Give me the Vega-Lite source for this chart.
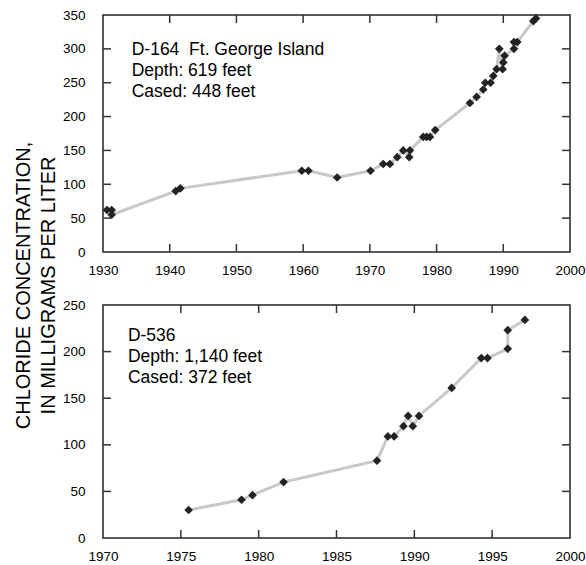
{
  "$schema": "https://vega.github.io/schema/vega-lite/v6.json",
  "padding": {"left": 12, "top": 7, "right": 10, "bottom": 2},
  "background": "white",
  "bounds": "flush",
  "spacing": 53,
  "datasets": {
    "d164": [
      {"i": 1, "year": 1930.6, "chloride": 62},
      {"i": 2, "year": 1931.3, "chloride": 62},
      {"i": 3, "year": 1931.3, "chloride": 55},
      {"i": 4, "year": 1940.9, "chloride": 90},
      {"i": 5, "year": 1941.6, "chloride": 94},
      {"i": 6, "year": 1959.8, "chloride": 120},
      {"i": 7, "year": 1960.8, "chloride": 120},
      {"i": 8, "year": 1965.1, "chloride": 110},
      {"i": 9, "year": 1970.1, "chloride": 120},
      {"i": 10, "year": 1972.0, "chloride": 130},
      {"i": 11, "year": 1973.0, "chloride": 130},
      {"i": 12, "year": 1974.1, "chloride": 140},
      {"i": 13, "year": 1975.0, "chloride": 150},
      {"i": 14, "year": 1975.9, "chloride": 140},
      {"i": 15, "year": 1976.0, "chloride": 150},
      {"i": 16, "year": 1978.0, "chloride": 170},
      {"i": 17, "year": 1978.5, "chloride": 170},
      {"i": 18, "year": 1979.0, "chloride": 170},
      {"i": 19, "year": 1979.8, "chloride": 180},
      {"i": 20, "year": 1985.0, "chloride": 220},
      {"i": 21, "year": 1986.0, "chloride": 229},
      {"i": 22, "year": 1987.0, "chloride": 240},
      {"i": 23, "year": 1987.3, "chloride": 250},
      {"i": 24, "year": 1988.1, "chloride": 250},
      {"i": 25, "year": 1988.5, "chloride": 260},
      {"i": 26, "year": 1989.0, "chloride": 270},
      {"i": 27, "year": 1989.4, "chloride": 300},
      {"i": 28, "year": 1989.9, "chloride": 270},
      {"i": 29, "year": 1990.0, "chloride": 280},
      {"i": 30, "year": 1990.2, "chloride": 290},
      {"i": 31, "year": 1991.6, "chloride": 300},
      {"i": 32, "year": 1991.6, "chloride": 310},
      {"i": 33, "year": 1992.1, "chloride": 310},
      {"i": 34, "year": 1994.5, "chloride": 341},
      {"i": 35, "year": 1994.9, "chloride": 345}
    ],
    "d536": [
      {"i": 1, "year": 1975.5, "chloride": 30},
      {"i": 2, "year": 1978.9, "chloride": 41},
      {"i": 3, "year": 1979.6, "chloride": 46},
      {"i": 4, "year": 1981.6, "chloride": 60},
      {"i": 5, "year": 1987.6, "chloride": 83},
      {"i": 6, "year": 1988.3, "chloride": 109},
      {"i": 7, "year": 1988.7, "chloride": 109},
      {"i": 8, "year": 1989.3, "chloride": 120},
      {"i": 9, "year": 1989.6, "chloride": 131},
      {"i": 10, "year": 1989.9, "chloride": 120},
      {"i": 11, "year": 1990.3, "chloride": 131},
      {"i": 12, "year": 1992.4, "chloride": 161},
      {"i": 13, "year": 1994.3, "chloride": 193},
      {"i": 14, "year": 1994.7, "chloride": 193},
      {"i": 15, "year": 1996.0, "chloride": 203},
      {"i": 16, "year": 1996.0, "chloride": 223},
      {"i": 17, "year": 1997.1, "chloride": 234}
    ],
    "xt1": [{"v": 1940}, {"v": 1950}, {"v": 1960}, {"v": 1970}, {"v": 1980}, {"v": 1990}],
    "yt1": [{"v": 50}, {"v": 100}, {"v": 150}, {"v": 200}, {"v": 250}, {"v": 300}],
    "xt2": [{"v": 1975}, {"v": 1980}, {"v": 1985}, {"v": 1990}, {"v": 1995}],
    "yt2": [{"v": 50}, {"v": 100}, {"v": 150}, {"v": 200}],
    "one": [{}]
  },
  "vconcat": [
    {
      "width": 467,
      "height": 237,
      "layer": [
        {
          "data": {"name": "d164"},
          "mark": {"type": "line", "color": "#c8c8c8", "strokeWidth": 3},
          "encoding": {
            "x": {"field": "year", "type": "quantitative", "scale": {"domain": [1930, 2000], "nice": false},
              "axis": {"orient": "bottom", "values": [1930, 1940, 1950, 1960, 1970, 1980, 1990, 2000], "format": "d", "title": null}},
            "y": {"field": "chloride", "type": "quantitative", "scale": {"domain": [0, 350], "nice": false},
              "axis": {"orient": "left", "values": [0, 50, 100, 150, 200, 250, 300, 350], "title": ["CHLORIDE CONCENTRATION,", "IN MILLIGRAMS PER LITER"], "titleY": 270, "titlePadding": 4, "titleLineHeight": 25}},
            "order": {"field": "i", "type": "quantitative"}
          }
        },
        {
          "data": {"name": "xt1"},
          "mark": {"type": "tick", "orient": "vertical", "size": 8, "thickness": 1.5, "color": "#333333", "opacity": 1, "yOffset": -4},
          "encoding": {
            "x": {"field": "v", "type": "quantitative", "axis": null},
            "y": {"datum": 0, "type": "quantitative", "axis": null}
          }
        },
        {
          "data": {"name": "xt1"},
          "mark": {"type": "tick", "orient": "vertical", "size": 8, "thickness": 1.5, "color": "#333333", "opacity": 1, "yOffset": 4},
          "encoding": {
            "x": {"field": "v", "type": "quantitative", "axis": null},
            "y": {"datum": 350, "type": "quantitative", "axis": null}
          }
        },
        {
          "data": {"name": "yt1"},
          "mark": {"type": "tick", "orient": "horizontal", "size": 8, "thickness": 1.5, "color": "#333333", "opacity": 1, "xOffset": 4},
          "encoding": {
            "y": {"field": "v", "type": "quantitative", "axis": null},
            "x": {"datum": 1930, "type": "quantitative", "axis": null}
          }
        },
        {
          "data": {"name": "yt1"},
          "mark": {"type": "tick", "orient": "horizontal", "size": 8, "thickness": 1.5, "color": "#333333", "opacity": 1, "xOffset": -4},
          "encoding": {
            "y": {"field": "v", "type": "quantitative", "axis": null},
            "x": {"datum": 2000, "type": "quantitative", "axis": null}
          }
        },
        {
          "data": {"name": "d164"},
          "mark": {"type": "point", "shape": "diamond", "filled": true, "color": "#222222", "size": 75, "opacity": 1},
          "encoding": {
            "x": {"field": "year", "type": "quantitative", "axis": null},
            "y": {"field": "chloride", "type": "quantitative", "axis": null}
          }
        },
        {
          "data": {"name": "one"},
          "mark": {"type": "text", "text": ["D-164\u00a0 Ft. George Island", "Depth: 619 feet", "Cased: 448 feet"], "align": "left", "baseline": "top", "fontSize": 17.5, "lineHeight": 20.7, "font": "Liberation Sans", "color": "#000"},
          "encoding": {
            "x": {"datum": 1934.3, "type": "quantitative", "axis": null},
            "y": {"datum": 311, "type": "quantitative", "axis": null}
          }
        }
      ],
      "resolve": {"axis": {"x": "independent", "y": "independent"}}
    },
    {
      "width": 467,
      "height": 233,
      "layer": [
        {
          "data": {"name": "d536"},
          "mark": {"type": "line", "color": "#c8c8c8", "strokeWidth": 3},
          "encoding": {
            "x": {"field": "year", "type": "quantitative", "scale": {"domain": [1970, 2000], "nice": false},
              "axis": {"orient": "bottom", "values": [1970, 1975, 1980, 1985, 1990, 1995, 2000], "format": "d", "title": null}},
            "y": {"field": "chloride", "type": "quantitative", "scale": {"domain": [0, 250], "nice": false},
              "axis": {"orient": "left", "values": [0, 50, 100, 150, 200, 250], "title": null}},
            "order": {"field": "i", "type": "quantitative"}
          }
        },
        {
          "data": {"name": "xt2"},
          "mark": {"type": "tick", "orient": "vertical", "size": 8, "thickness": 1.5, "color": "#333333", "opacity": 1, "yOffset": -4},
          "encoding": {
            "x": {"field": "v", "type": "quantitative", "axis": null},
            "y": {"datum": 0, "type": "quantitative", "axis": null}
          }
        },
        {
          "data": {"name": "xt2"},
          "mark": {"type": "tick", "orient": "vertical", "size": 8, "thickness": 1.5, "color": "#333333", "opacity": 1, "yOffset": 4},
          "encoding": {
            "x": {"field": "v", "type": "quantitative", "axis": null},
            "y": {"datum": 250, "type": "quantitative", "axis": null}
          }
        },
        {
          "data": {"name": "yt2"},
          "mark": {"type": "tick", "orient": "horizontal", "size": 8, "thickness": 1.5, "color": "#333333", "opacity": 1, "xOffset": 4},
          "encoding": {
            "y": {"field": "v", "type": "quantitative", "axis": null},
            "x": {"datum": 1970, "type": "quantitative", "axis": null}
          }
        },
        {
          "data": {"name": "yt2"},
          "mark": {"type": "tick", "orient": "horizontal", "size": 8, "thickness": 1.5, "color": "#333333", "opacity": 1, "xOffset": -4},
          "encoding": {
            "y": {"field": "v", "type": "quantitative", "axis": null},
            "x": {"datum": 2000, "type": "quantitative", "axis": null}
          }
        },
        {
          "data": {"name": "d536"},
          "mark": {"type": "point", "shape": "diamond", "filled": true, "color": "#222222", "size": 75, "opacity": 1},
          "encoding": {
            "x": {"field": "year", "type": "quantitative", "axis": null},
            "y": {"field": "chloride", "type": "quantitative", "axis": null}
          }
        },
        {
          "data": {"name": "one"},
          "mark": {"type": "text", "text": ["D-536", "Depth: 1,140 feet", "Cased: 372 feet"], "align": "left", "baseline": "top", "fontSize": 17.5, "lineHeight": 20.7, "font": "Liberation Sans", "color": "#000"},
          "encoding": {
            "x": {"datum": 1971.6, "type": "quantitative", "axis": null},
            "y": {"datum": 226, "type": "quantitative", "axis": null}
          }
        }
      ],
      "resolve": {"axis": {"x": "independent", "y": "independent"}}
    }
  ],
  "config": {
    "view": {"stroke": "#222222", "strokeWidth": 1.5},
    "axis": {
      "grid": false,
      "domain": false,
      "ticks": false,
      "labelFont": "Liberation Sans",
      "labelFontSize": 13.5,
      "labelColor": "#000000",
      "labelFlush": false,
      "labelOverlap": false,
      "titleFont": "Liberation Sans",
      "titleFontSize": 20,
      "titleFontWeight": "normal",
      "titleColor": "#000000"
    },
    "axisX": {"labelPadding": 11},
    "axisY": {"labelPadding": 18}
  }
}
